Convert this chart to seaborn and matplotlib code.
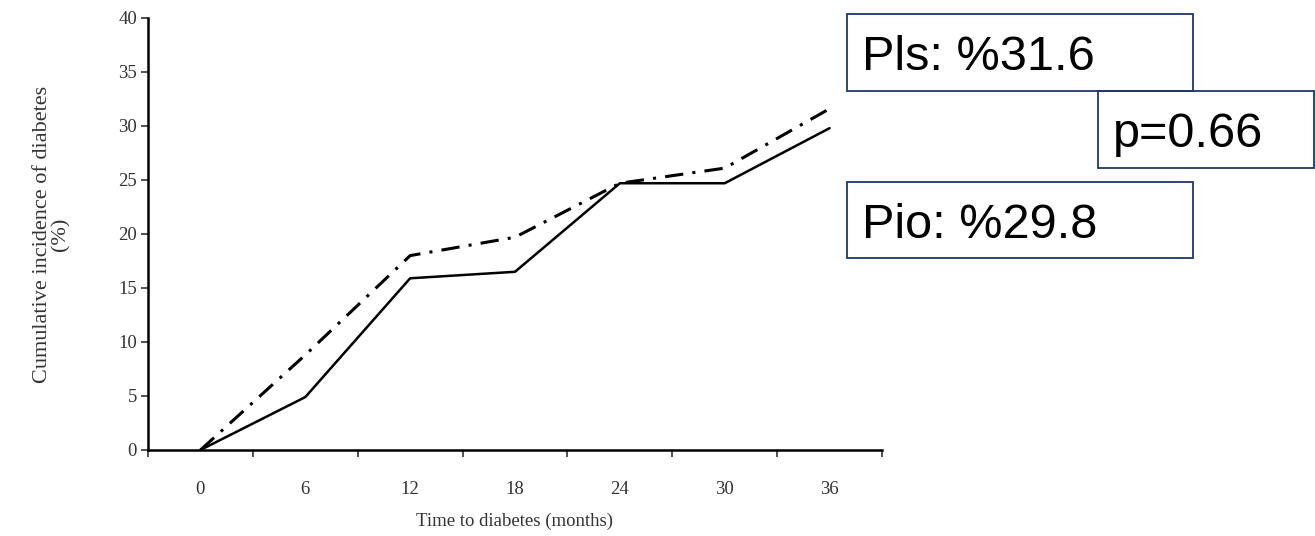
import matplotlib
matplotlib.use("Agg")
import matplotlib.pyplot as plt
from matplotlib.patches import Rectangle
import seaborn as sns
import pandas as pd

months = [0, 6, 12, 18, 24, 30, 36]
pio = [0, 4.9, 15.9, 16.5, 24.7, 24.7, 29.8]      # solid line
pls = [0, 8.8, 18.0, 19.7, 24.7, 26.1, 31.6]      # dash-dot line

boxes = [
    ("Pls: %31.6", 847, 14, 346, 77),
    ("p=0.66", 1098, 91, 216, 77),
    ("Pio: %29.8", 847, 182, 346, 76),
]

W, H = 1315, 536
sns.set_style("white")
plt.rcParams["font.family"] = ["Liberation Serif", "DejaVu Serif"]

df = pd.DataFrame({"month": months * 2,
                   "pct": pio + pls,
                   "group": ["Pio"] * len(months) + ["Pls"] * len(months)})

fig = plt.figure(figsize=(W / 100, H / 100), dpi=100)
ax = fig.add_axes([148 / W, 1 - 450 / H, (882 - 148) / W, (450 - 18) / H])

sns.lineplot(data=df[df.group == "Pio"], x="month", y="pct", ax=ax,
             color="black", linewidth=1.8)
sns.lineplot(data=df[df.group == "Pls"], x="month", y="pct", ax=ax,
             color="black", linewidth=2.2)
ax.lines[1].set_linestyle((0, (6, 3, 1, 3)))

ax.set_xlim(-3, 39)
ax.set_ylim(0, 40)
ax.set_xticks(months)
ax.set_xticks(list(range(-3, 40, 6)), minor=True)
ax.set_yticks(range(0, 41, 5))

for s in ["top", "right"]:
    ax.spines[s].set_visible(False)
for s in ["left", "bottom"]:
    ax.spines[s].set_color("black")
    ax.spines[s].set_linewidth(1.8)

ax.tick_params(axis="x", which="major", bottom=True, length=0, pad=22, labelsize=13.5,
               labelcolor="#333333")
ax.tick_params(axis="x", which="minor", bottom=True, length=5, width=1.2, direction="out",
               color="#333333")
ax.tick_params(axis="y", length=5, width=1.2, direction="out", pad=3, labelsize=13.5,
               labelcolor="#333333", color="#333333", left=True)

ax.set_xlabel("Time to diabetes (months)", fontsize=13.5, color="#333333", labelpad=11)
ax.set_ylabel("Cumulative incidence of diabetes\n(%)", fontsize=16, color="#333333",
              linespacing=1.0)
ax.yaxis.set_label_coords(-0.105, 0.5)

for label, x0, y0, bw, bh in boxes:
    fig.patches.append(Rectangle((x0 / W, 1 - (y0 + bh) / H), bw / W, bh / H,
                                 transform=fig.transFigure, fill=False,
                                 edgecolor="#1F3864", linewidth=1.3))
    fig.text((x0 + 15) / W, 1 - (y0 + bh / 2 + 5) / H, label, fontsize=35,
             family=["Liberation Sans", "DejaVu Sans"], color="black",
             ha="left", va="center")

fig.savefig("out.png", dpi=100)
